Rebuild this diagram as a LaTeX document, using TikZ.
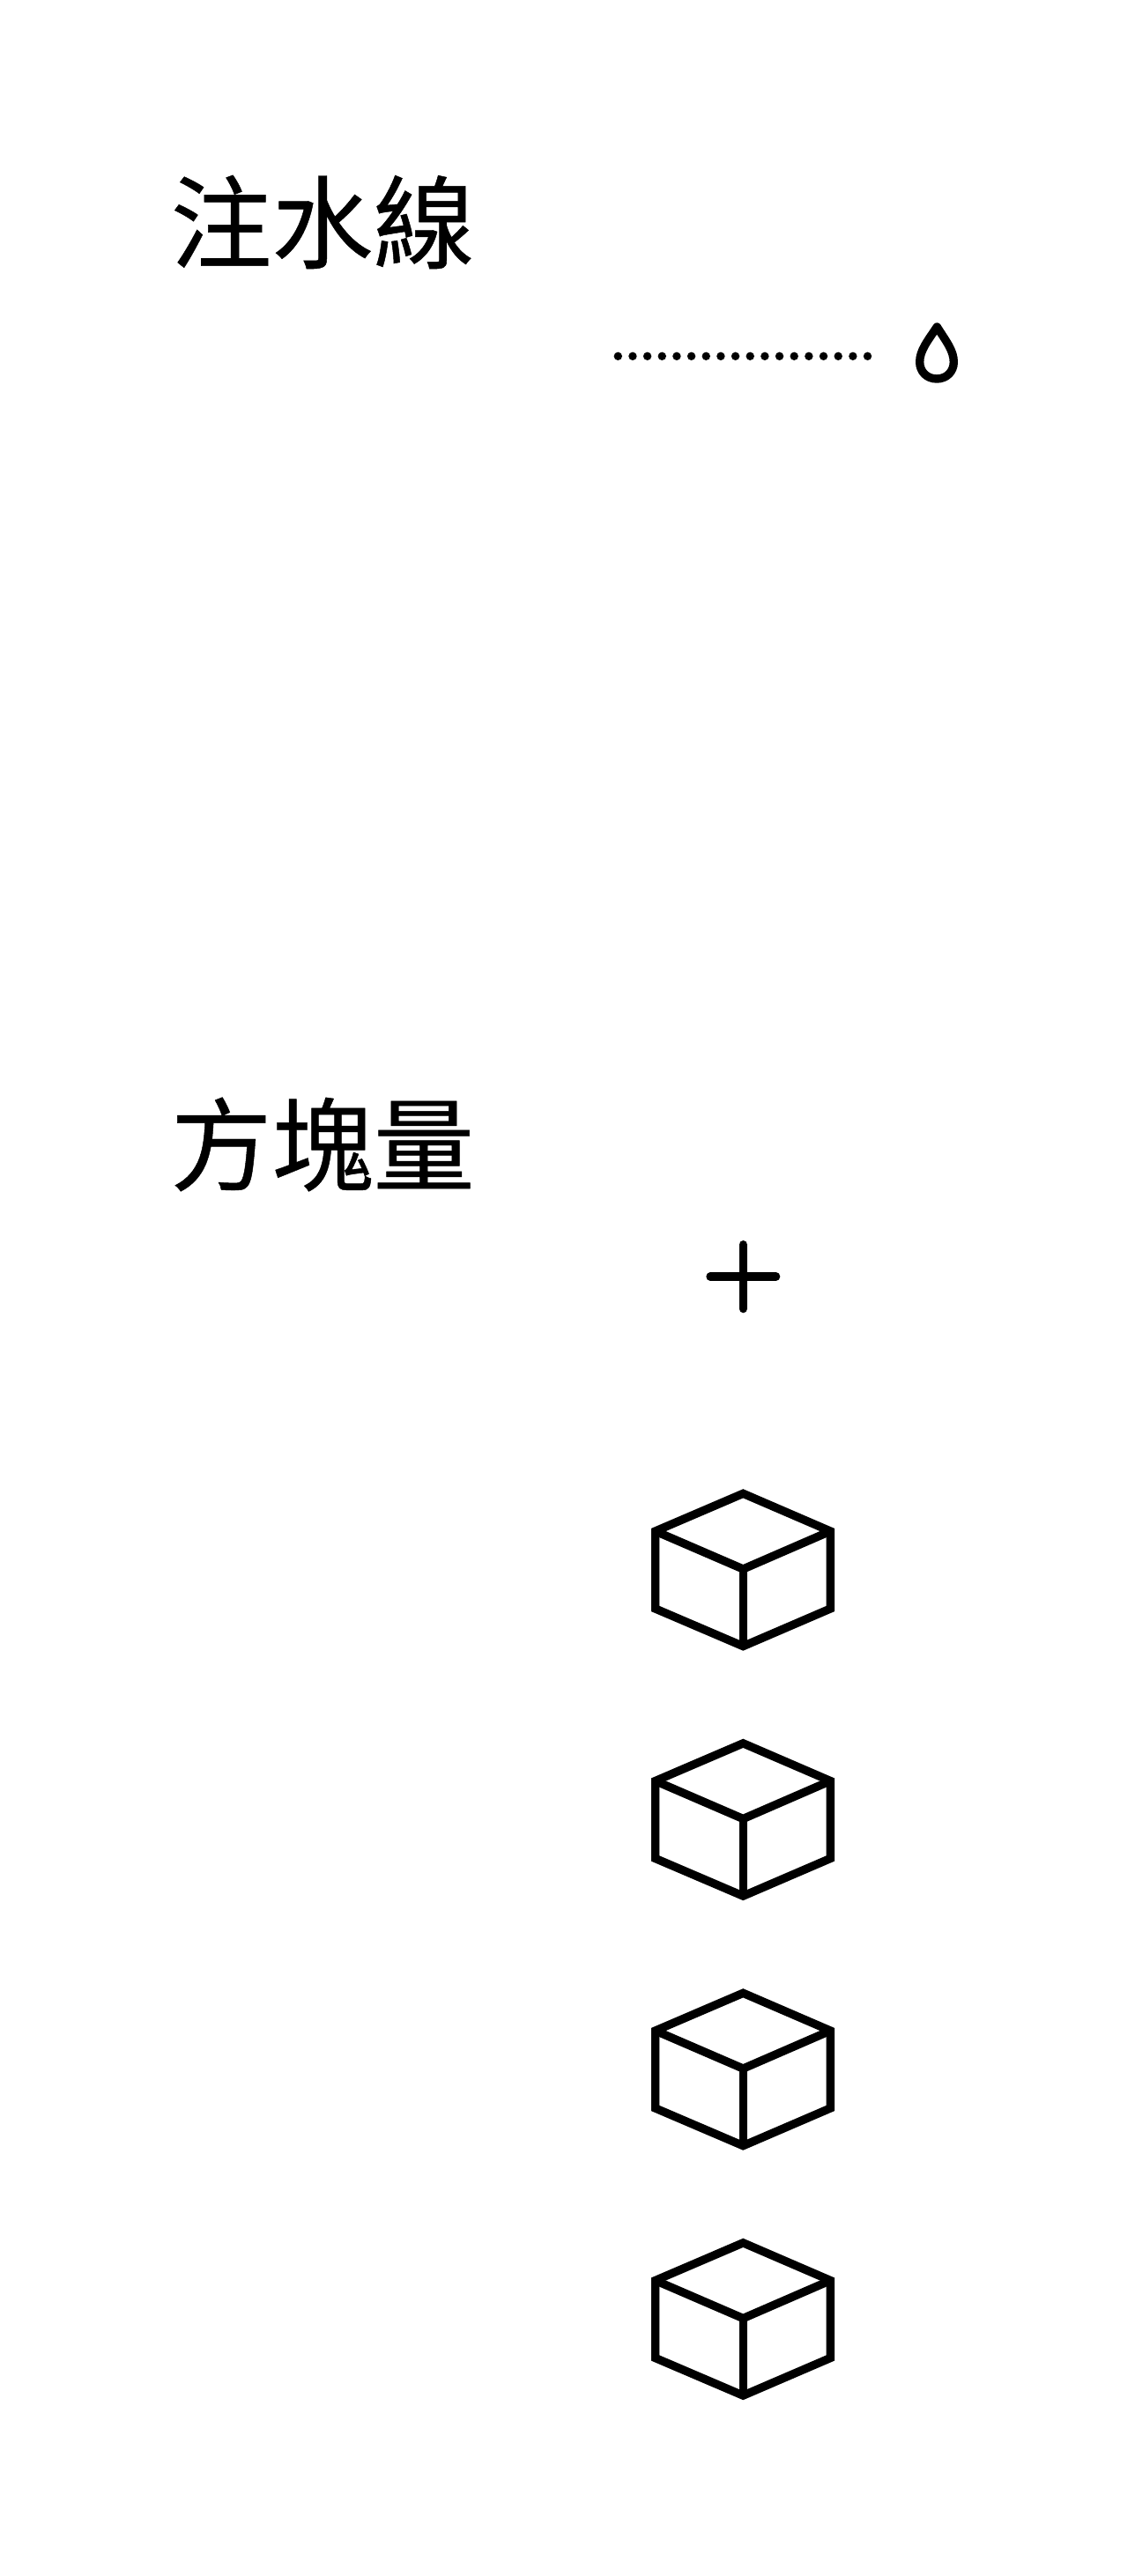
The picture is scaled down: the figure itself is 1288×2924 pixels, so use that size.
\documentclass[tikz,border=0pt]{standalone}
\usepackage{fontspec}
\newfontfamily\cjk[FakeBold=0.4]{Noto Sans CJK TC}

\begin{document}
\begin{tikzpicture}[x=0.5pt,y=-0.5pt,line width=4.7pt]
  \tikzstyle{every node}=[inner sep=0pt,outer sep=0pt,font=\cjk\fontsize{57.5pt}{57.5pt}\selectfont]
  \tikzstyle{title}=[anchor=center]
  \tikzstyle{dotted line}=[line cap=round,dash pattern=on 0pt off 8.33pt]

  \useasboundingbox (0,0) rectangle (1288,2924);

  \node[title] (water) at (366,252) {注水線};
  \node[title] (blocks) at (366,1299) {方塊量};

  % water line and drop
  \draw[dotted line] (701.3,404.3) -- (990,404.3);
  \draw[line join=round] (1063.3,371) .. controls (1052,388) and (1043.7,398) .. (1043.7,411)
    .. controls (1043.7,422) and (1052,430) .. (1063,430)
    .. controls (1074,430) and (1082.3,422) .. (1082.3,411)
    .. controls (1082.3,398) and (1074,388) .. (1063.3,371) -- cycle;

  % plus
  \draw[line cap=round] (806,1449) -- (880.6,1449);
  \draw[line cap=round] (843.3,1412.7) -- (843.3,1485.6);

  % cubes
  \foreach \y in {0,283.5,567,850.5} {
    \begin{scope}[yshift=\y*-0.5pt]
      \draw (843.3,1695.3) -- (942.3,1738) -- (942.3,1826) -- (843.3,1868.6)
        -- (743.7,1826) -- (743.7,1738) -- cycle;
      \draw (743.7,1738) -- (843.3,1781) -- (942.3,1738);
      \draw (843.3,1781) -- (843.3,1868.6);
    \end{scope}
  }
\end{tikzpicture}
\end{document}
